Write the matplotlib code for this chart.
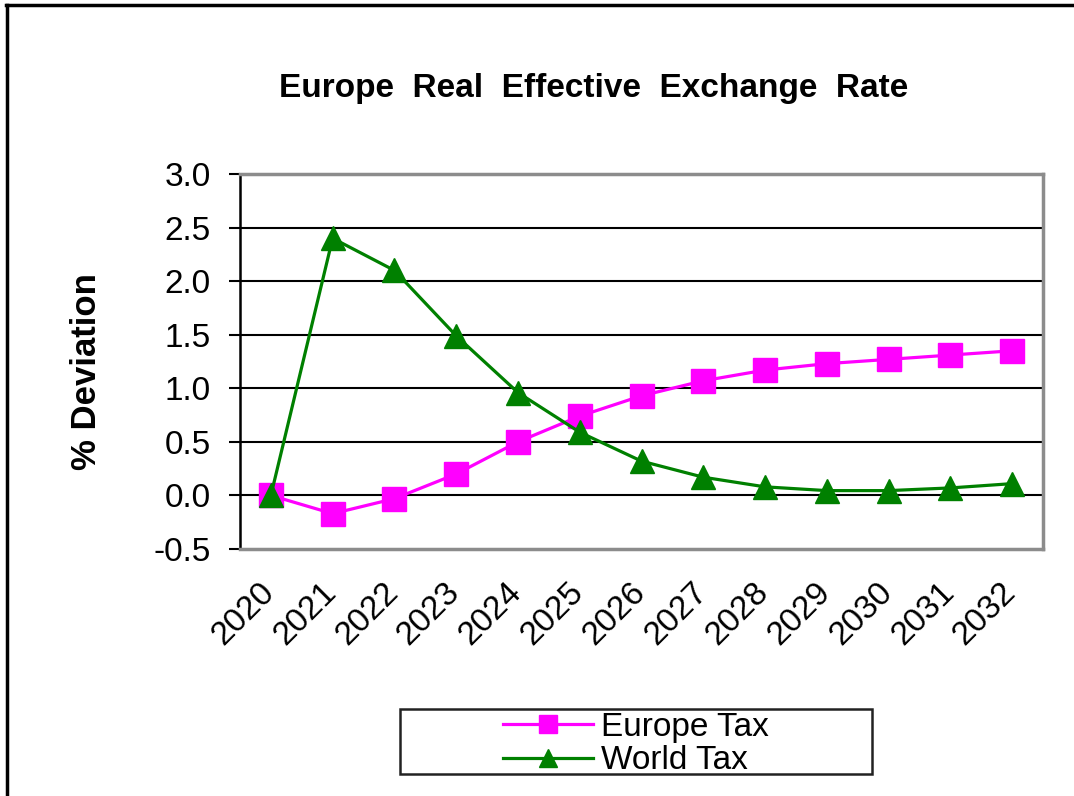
import matplotlib.pyplot as plt
import matplotlib.transforms as mtransforms
from matplotlib.patches import Rectangle
from matplotlib.lines import Line2D

plt.rcParams['font.family'] = ['Liberation Sans', 'DejaVu Sans']

# ── data ──
years = ['2020', '2021', '2022', '2023', '2024', '2025', '2026',
         '2027', '2028', '2029', '2030', '2031', '2032']
europe_tax = [0.00, -0.17, -0.03, 0.20, 0.50, 0.74, 0.93,
              1.07, 1.17, 1.23, 1.27, 1.31, 1.35]
world_tax = [0.00, 2.40, 2.10, 1.49, 0.96, 0.59, 0.32,
             0.17, 0.08, 0.045, 0.045, 0.07, 0.11]
yticks = [-0.5, 0.0, 0.5, 1.0, 1.5, 2.0, 2.5, 3.0]

W, H = 1074, 796
fig = plt.figure(figsize=(W / 100, H / 100), dpi=100)
ax = fig.add_axes([240 / W, 1 - 549 / H, (1043 - 240) / W, (549 - 174) / H])

x = list(range(len(years)))

# gridlines
for v in yticks[1:-1]:
    ax.axhline(v, color='black', lw=1.5, zorder=1)

ax.plot(x, europe_tax, color='#FF00FF', lw=2.3, marker='s', ms=17,
        mec='#FF00FF', mfc='#FF00FF', zorder=3, label='Europe Tax')
ax.plot(x, world_tax, color='#008000', lw=2.3, marker='^', ms=17,
        mec='#008000', mfc='#008000', zorder=4, label='World Tax')

ax.set_xlim(-0.5, len(years) - 0.5)
ax.set_ylim(-0.5, 3.0)
ax.set_yticks(yticks)
ax.set_yticklabels([f'{v:.1f}' for v in yticks])
ax.set_xticks(x)
ax.set_xticklabels(years, rotation=45, ha='right', va='top')

ax.tick_params(axis='y', direction='out', length=8, width=1.5, pad=13,
               labelsize=24, colors='black')
ax.tick_params(axis='x', length=0, pad=20, labelsize=24)

offset = mtransforms.ScaledTranslation(10 / 100, 0, fig.dpi_scale_trans)
for lbl in ax.get_xticklabels():
    lbl.set_transform(lbl.get_transform() + offset)

for s in ['top', 'right', 'bottom']:
    ax.spines[s].set_color('#8c8c8c')
    ax.spines[s].set_linewidth(2.5)
ax.spines['left'].set_color('black')
ax.spines['left'].set_linewidth(1.8)

ax.set_ylabel('% Deviation', fontsize=25, fontweight='bold')
ax.yaxis.set_label_coords((103 - 240) / 803, (549 - 372) / 375)
fig.text(594 / W, 1 - 89 / H, 'Europe  Real  Effective  Exchange  Rate',
         fontsize=24, fontweight='bold', ha='center', va='center')

# legend with a wider box drawn separately
leg = fig.legend(loc='center', bbox_to_anchor=(636 / W, 1 - 744 / H),
                 frameon=False, fontsize=24, handlelength=2.7,
                 handletextpad=0.25, labelspacing=0.08, borderpad=0,
                 markerscale=0.8)
fig.patches.append(Rectangle((400 / W, 1 - 774 / H), 472 / W, 65 / H,
                             transform=fig.transFigure, fill=False,
                             ec='#222222', lw=1.8))

# outer frame (top and left only)
fig.lines.append(Line2D([6 / W, 1], [1 - 5 / H, 1 - 5 / H],
                        transform=fig.transFigure, color='black', lw=2.5))
fig.lines.append(Line2D([7 / W, 7 / W], [0, 1 - 5 / H],
                        transform=fig.transFigure, color='black', lw=2.5))

fig.savefig('out.png', dpi=100)
